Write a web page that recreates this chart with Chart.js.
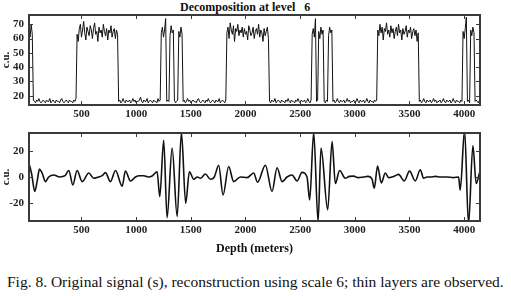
<!DOCTYPE html>
<html>
<head>
<script src="https://cdn.jsdelivr.net/npm/chart.js"></script>
<style>
  body { margin: 0; background: #fff; width: 511px; height: 296px; position: relative; overflow: hidden; }
  .box { position: absolute; left: 0; }
  #title { position: absolute; left: 180px; top: 0px; font: bold 12px 'Liberation Serif', serif; white-space: pre; color: #111; }
  #caption { position: absolute; left: 7px; top: 273px; font: 15.5px 'Liberation Serif', serif; color: #111; white-space: nowrap; }
</style>
</head>
<body>
<div id="title">Decomposition at level   6</div>
<div class="box" style="top:0px"><canvas id="top" width="511" height="120"></canvas></div>
<div class="box" style="top:120px"><canvas id="bottom" width="511" height="136"></canvas></div>
<div id="caption">Fig. 8. Original signal (s), reconstruction using scale 6; thin layers are observed.</div>
<script>
// depth ticks shared by both panels
const depthTicks = [500, 1000, 1500, 2000, 2500, 3000, 3500, 4000];
const signalTicks = [20, 30, 40, 50, 60, 70];
const reconTicks = [-20, 0, 20];

// original signal, sampled every 10 m from 20 m
const signalStart = 20;
const signalStep = 10;
const signalValues = [
  66, 61, 70, 63,
  17,16,15,17,16,18,16,15,16,17, 16,15,17,16,16,18,15,16,17,16, 15,17,16,16,15,17,18,16,15,16, 17,16,15,17,16,16,15,17,16,18,
  63,58,67,70,61,66,72,64,59,68, 65,62,69,66,60,67,71,63,65,58, 68,64,66,61,70,65,62,67,59,66, 64,69,61,65,67,60,66,63,
  16,17,15,16,18,16,15,17,16,16, 17,15,16,18,16,17,15,16,16,17, 19,16,15,17,16,16,18,15,16,17, 16,15,17,16,16,15,18,16,17,
  64, 68, 61, 66, 74,
  16, 17, 16,
  62, 69, 64, 66,
  17, 15, 16, 17,
  65, 61, 68, 63,
  16,17,15,16,18,16,17,15,16,17, 16,16,15,17,18,16,15,16,17,16, 15,17,16,18,16,15,16,17,16,15, 17,16,16,18,15,16,17,16,15,17,
  64,68,60,71,66,63,69,58,67,65, 70,62,66,64,68,61,67,63,65,59, 69,66,62,64,68,60,65,67,63,70, 61,66,64,58,67,62,65,68,60,
  16,15,17,16,16,18,15,16,17,16, 15,17,16,16,15,17,16,18,16,15, 17,16,16,15,17,16,18,16,15,17, 16,16,17,15,16,18,16,15,17,
  63, 67, 61, 74,
  16, 17,
  65, 60, 68, 63, 66,
  16, 15, 17, 16,
  62, 68, 64, 66,
  16,17,15,16,18,16,15,17,16,16, 17,15,16,18,16,17,15,16,16,17, 15,16,18,16,15,17,16,16,17,15, 16,18,16,15,17,16,16,15,17,16, 17,
  66,62,70,64,68,59,67,65,71,63, 66,61,69,64,67,60,65,68,62,70, 64,66,59,67,63,65,69,61,66,64, 68,60,65,67,62,66,58,64,
  16,17,15,16,18,16,15,17,16,16, 17,15,16,18,16,17,15,16,16,17, 15,16,18,16,15,17,16,16,17,15, 16,18,16,15,17,16,16,15,17,16,
  65, 60, 67, 75,
  16, 17, 15,
  66, 62, 68, 64,
  16, 17, 16, 15, 17
];

// level-6 reconstruction: depths and values at the turning points
const reconDepths = [
  25, 45, 73, 95, 116, 140, 171, 200, 247, 300, 350, 384, 421, 460, 506, 567, 612, 655, 690, 719,
  765, 811, 872, 902, 948, 994, 1030, 1070, 1110, 1150, 1192, 1216, 1252, 1283, 1329, 1375, 1414, 1453, 1487, 1527,
  1560, 1588, 1633, 1679, 1715, 1755, 1795, 1846, 1892, 1953, 2014, 2075, 2110, 2182, 2243, 2289, 2335, 2380, 2426, 2472,
  2517, 2563, 2587, 2624, 2664, 2691, 2752, 2792, 2822, 2861, 2913, 2950, 2989, 3030, 3080, 3120, 3157, 3178, 3208, 3242,
  3279, 3310, 3340, 3370, 3400, 3452, 3501, 3553, 3599, 3629, 3660, 3690, 3740, 3782, 3840, 3903, 3949, 3964, 4004, 4040,
  4080, 4110, 4140
];
const reconValues = [
  9, 2, -11, -3, 6, 3, -3.5, 0, 1.5, 0, 1, 5, -6, 5, -3.5, 3, -1, 0, 1, 3.3,
  -3.5, 5, -7, 4.6, -3, 0, 1, 1, 0, 1, 4, -15, 28, -31, 22, -30, 34, -20, 4, -1.7,
  0, -1, 2.3, -1.7, 0, 9, -13.7, 8, -3.5, 0, -0.5, 3, -4, 9, -11, 7, -3.5, 0, 1.5, -3,
  3.5, 0, -17.5, 34, -34, 22, -25, 27, -5, 5, -1, 0.5, 0.7, -0.5, 0, 0.5, -1.5, -8.6, 8.4, -4.5,
  3, -0.5, 0, 1, 2, -3, 4.5, -3, 5.5, -1, 0, 0, 0.5, 0, 0, -0.5, 0, -10, 36, -36,
  24, -5, 3
];

const signalPoints = signalValues.map((v, i) => ({ x: signalStart + i * signalStep, y: v }));
const reconPoints = reconDepths.map((d, i) => ({ x: d, y: reconValues[i] }));

const serif = "'Liberation Serif', 'Times New Roman', serif";
const tickFont = { family: serif, size: 11, weight: 'bold' };

// frame with inward ticks on all four sides
const boxTicks = {
  id: 'boxTicks',
  afterDraw(chart) {
    const { ctx, chartArea: a, scales } = chart;
    ctx.save();
    ctx.strokeStyle = '#3a3a3a';
    ctx.lineWidth = 1;
    ctx.beginPath();
    scales.x.ticks.forEach(t => {
      const p = Math.round(scales.x.getPixelForValue(t.value)) + 0.5;
      ctx.moveTo(p, a.bottom); ctx.lineTo(p, a.bottom - 4);
      ctx.moveTo(p, a.top); ctx.lineTo(p, a.top + 4);
    });
    scales.y.ticks.forEach(t => {
      const p = Math.round(scales.y.getPixelForValue(t.value)) + 0.5;
      ctx.moveTo(a.left, p); ctx.lineTo(a.left + 4, p);
      ctx.moveTo(a.right, p); ctx.lineTo(a.right - 4, p);
    });
    ctx.stroke();
    ctx.lineWidth = 2;
    ctx.strokeRect(a.left, a.top, a.right - a.left, a.bottom - a.top);
    ctx.restore();
  }
};

function panel(id, points, yMin, yMax, yTicks, opts) {
  return new Chart(document.getElementById(id), {
    type: 'line',
    data: { datasets: [{
      data: points,
      borderColor: '#111',
      borderWidth: opts.lineWidth,
      pointRadius: 0,
      cubicInterpolationMode: opts.smooth ? 'monotone' : 'default',
      tension: 0
    }] },
    options: {
      responsive: false,
      animation: false,
      events: [],
      layout: { padding: { left: 0, right: 31, top: opts.padTop, bottom: 0 } },
      plugins: { legend: { display: false }, tooltip: { enabled: false } },
      scales: {
        x: {
          type: 'linear', min: 20, max: 4145,
          afterBuildTicks: s => { s.ticks = depthTicks.map(v => ({ value: v })); },
          afterFit: s => { s.height = opts.xHeight; },
          grid: { display: false, drawTicks: false },
          border: { display: false },
          ticks: { color: '#222', font: tickFont, padding: 3, maxRotation: 0, callback: v => String(v) },
          title: opts.xTitle ? { display: true, text: opts.xTitle, color: '#111',
            font: { family: serif, size: 12, weight: 'bold' }, padding: { top: 0, bottom: 0 } } : { display: false }
        },
        y: {
          min: yMin, max: yMax,
          afterBuildTicks: s => { s.ticks = yTicks.map(v => ({ value: v })); },
          afterFit: s => { s.width = 29; },
          grid: { display: false, drawTicks: false },
          border: { display: false },
          ticks: { color: '#222', font: tickFont, padding: 5, callback: v => String(v) },
          title: { display: true, text: 'c.u.', color: '#111',
            font: { family: serif, size: 11, weight: 'bold' }, padding: 0 }
        }
      }
    },
    plugins: [boxTicks]
  });
}

panel('top', signalPoints, 13.5, 76.5, signalTicks, { lineWidth: 1, smooth: false, padTop: 15, xHeight: 15 });
panel('bottom', reconPoints, -33.5, 33.5, reconTicks, { lineWidth: 1.6, smooth: true, padTop: 13, xHeight: 35, xTitle: 'Depth (meters)' });
</script>
</body>
</html>
